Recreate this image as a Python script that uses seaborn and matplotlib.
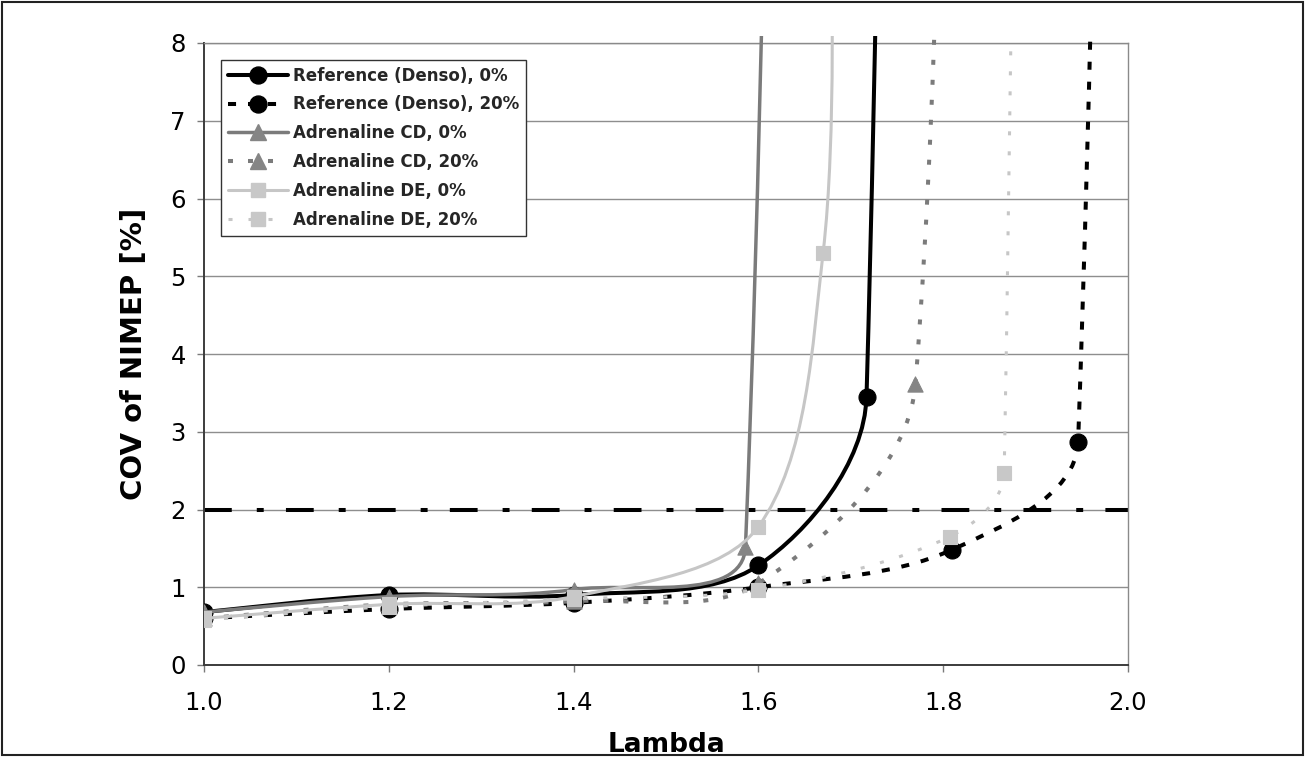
import numpy as np
import pandas as pd
import matplotlib
matplotlib.use("Agg")
import matplotlib.pyplot as plt
import seaborn as sns
from matplotlib.path import Path
from matplotlib.patches import PathPatch, Rectangle
from matplotlib.lines import Line2D

# ---------------- data ----------------
series_labels = ["Reference (Denso), 0%", "Reference (Denso), 20%",
                 "Adrenaline CD, 0%", "Adrenaline CD, 20%",
                 "Adrenaline DE, 0%", "Adrenaline DE, 20%"]

# the last point of each series lies above the plotted range (estimated)
ref0_lambda = [1.0, 1.2, 1.4, 1.6, 1.717, 1.740]
ref0_cov = [0.68, 0.90, 0.90, 1.28, 3.45, 60.0]

ref20_lambda = [1.0, 1.2, 1.4, 1.6, 1.809, 1.946, 1.985]
ref20_cov = [0.60, 0.72, 0.80, 1.00, 1.48, 2.87, 60.0]

cd0_lambda = [1.0, 1.2, 1.4, 1.586, 1.601]
cd0_cov = [0.68, 0.88, 0.97, 1.52, 60.0]

cd20_lambda = [1.0, 1.2, 1.4, 1.6, 1.770, 1.790]
cd20_cov = [0.60, 0.78, 0.82, 1.05, 3.62, 30.0]

de0_lambda = [1.0, 1.2, 1.4, 1.6, 1.670, 1.680]
de0_cov = [0.60, 0.78, 0.88, 1.78, 5.30, 9.9]

de20_lambda = [1.0, 1.2, 1.4, 1.6, 1.807, 1.866, 1.895]
de20_cov = [0.58, 0.75, 0.85, 0.97, 1.65, 2.47, 60.0]

limit_cov = 2.0

x_ticks = [1.0, 1.2, 1.4, 1.6, 1.8, 2.0]
x_tick_labels = ["1.0", "1.2", "1.4", "1.6", "1.8", "2.0"]
y_ticks = [0, 1, 2, 3, 4, 5, 6, 7, 8]
y_tick_labels = ["0", "1", "2", "3", "4", "5", "6", "7", "8"]
x_label = "Lambda"
y_label = "COV of NIMEP [%]"

# ---------------- styling ----------------
sns.set_theme(style="white")
plt.rcParams["font.family"] = ["DejaVu Sans"]
plt.rcParams["lines.scale_dashes"] = False

BLACK = "#000000"
MID = "#7b7b7b"
LIGHT = "#c6c6c6"

styles = [
    dict(color=BLACK, lw=2.9, dashes=None, marker="o", s=150, mfc=BLACK, ms=12.2),
    dict(color=BLACK, lw=2.9, dashes=(5.8, 8.6), marker="o", s=150, mfc=BLACK, ms=12.2),
    dict(color=MID, lw=2.5, dashes=None, marker="^", s=120, mfc="#858585", ms=11),
    dict(color=MID, lw=2.9, dashes=(3.6, 10.8), marker="^", s=120, mfc="#858585", ms=11),
    dict(color=LIGHT, lw=2.2, dashes=None, marker="s", s=100, mfc="#c8c8c8", ms=10),
    dict(color=LIGHT, lw=2.2, dashes=(2.9, 11.5), marker="s", s=100, mfc="#c8c8c8", ms=10),
]

data_sets = [(ref0_lambda, ref0_cov), (ref20_lambda, ref20_cov),
             (cd0_lambda, cd0_cov), (cd20_lambda, cd20_cov),
             (de0_lambda, de0_cov), (de20_lambda, de20_cov)]


def smooth_path(ax, xs, ys):
    """Excel-like smoothed line: Bezier through the data points, with
    tangents weighted by on-screen segment lengths."""
    P = ax.transData.transform(np.column_stack([xs, ys]).astype(float))
    n = len(P)
    d = np.hypot(*np.diff(P, axis=0).T)
    verts = [P[0]]
    codes = [Path.MOVETO]
    for i in range(n - 1):
        p1, p2 = P[i], P[i + 1]
        if i > 0:
            c1 = p1 + (p2 - P[i - 1]) * d[i] / (3.0 * (d[i - 1] + d[i]))
        else:
            c1 = p1 + (p2 - p1) / 6.0
        if i + 2 < n:
            c2 = p2 - (P[i + 2] - p1) * d[i] / (3.0 * (d[i] + d[i + 1]))
        else:
            c2 = p2 - (p2 - p1) / 6.0
        verts += [c1, c2, p2]
        codes += [Path.CURVE4] * 3
    verts = ax.transData.inverted().transform(np.array(verts))
    return Path(verts, codes)


W, H = 1313, 757
fig = plt.figure(figsize=(W / 100, H / 100), dpi=100)
fig.patch.set_facecolor("white")
ax_l, ax_r, ax_t, ax_b = 204, 1128, 43, 665
ax = fig.add_axes([ax_l / W, 1 - ax_b / H, (ax_r - ax_l) / W, (ax_b - ax_t) / H])
ax.set_facecolor("white")

ax.set_xlim(1.0, 2.0)
ax.set_ylim(0, 8)

ax.set_yticks(y_ticks)
ax.set_yticklabels(y_tick_labels)
ax.set_xticks(x_ticks)
ax.set_xticklabels(x_tick_labels)
ax.yaxis.grid(True, color="#8e8e8e", lw=1.0, zorder=0)
ax.xaxis.grid(False)
ax.set_axisbelow(True)

# limit line at COV = 2 %
ax.axhline(limit_cov, color=BLACK, lw=2.9, dashes=(20, 18, 5, 16), zorder=2.5,
           solid_capstyle="butt", dash_capstyle="butt")

clip_rect = Rectangle((0, 0), 1, 1.012, transform=ax.transAxes, facecolor="none",
                      edgecolor="none")
ax.add_patch(clip_rect)

for i, ((xs, ys), st) in enumerate(zip(data_sets, styles)):
    path = smooth_path(ax, xs, ys)
    ls = "-" if st["dashes"] is None else (0, st["dashes"])
    patch = PathPatch(path, facecolor="none", edgecolor=st["color"], lw=st["lw"],
                      linestyle=ls, capstyle="butt", joinstyle="round",
                      transform=ax.transData, zorder=3 + i)
    ax.add_patch(patch)
    patch.set_clip_path(clip_rect)
    df = pd.DataFrame({"Lambda": xs, "COV": ys})
    sns.scatterplot(data=df, x="Lambda", y="COV", ax=ax, marker=st["marker"],
                    s=st["s"], color=st["mfc"], edgecolor=st["mfc"], linewidth=0.8,
                    zorder=3.5 + i, legend=False)

ax.set_xlim(1.0, 2.0)
ax.set_ylim(0, 8)
ax.set_xlabel("")
ax.set_ylabel("")

for side in ["top", "right"]:
    ax.spines[side].set_color("#8a8a8a")
    ax.spines[side].set_linewidth(1.0)
for side in ["left", "bottom"]:
    ax.spines[side].set_color("#3c3c3c")
    ax.spines[side].set_linewidth(1.4)

ax.tick_params(axis="both", which="major", direction="out", length=5, width=1,
               color="#7a7a7a", labelsize=17.5, labelcolor="black",
               left=True, bottom=True)
ax.tick_params(axis="y", pad=8)
ax.tick_params(axis="x", pad=14)

fig.text(134 / W, 1 - 354 / H, y_label, rotation=90, ha="center", va="center",
         fontsize=21, fontweight="bold", color="black")
fig.text(666 / W, 1 - 752 / H, x_label, ha="center", va="baseline",
         fontsize=19, fontweight="bold", color="black")

handles = []
for st in styles:
    handles.append(Line2D([], [], color=st["color"], lw=st["lw"],
                          linestyle="-" if st["dashes"] is None else (0, st["dashes"]),
                          marker=st["marker"], markersize=st["ms"],
                          markerfacecolor=st["mfc"], markeredgecolor=st["mfc"],
                          dash_capstyle="butt"))
leg = ax.legend(handles, series_labels, loc="upper left",
                bbox_to_anchor=(221 / W, 1 - 60 / H), bbox_transform=fig.transFigure,
                borderaxespad=0, frameon=True, fancybox=False, framealpha=1,
                edgecolor="#333333",
                prop={"weight": "bold", "size": 12}, handlelength=3.6,
                handletextpad=0.3, labelspacing=0.65, borderpad=0.4,
                numpoints=1)
leg.get_frame().set_linewidth(1.0)
leg.set_zorder(20)

fig.patches.append(Rectangle((2 / W, 2 / H), (W - 12) / W, (H - 4) / H,
                             transform=fig.transFigure, fill=False,
                             edgecolor="#222222", lw=1.5))

fig.savefig("out.png", dpi=100, facecolor="white")
